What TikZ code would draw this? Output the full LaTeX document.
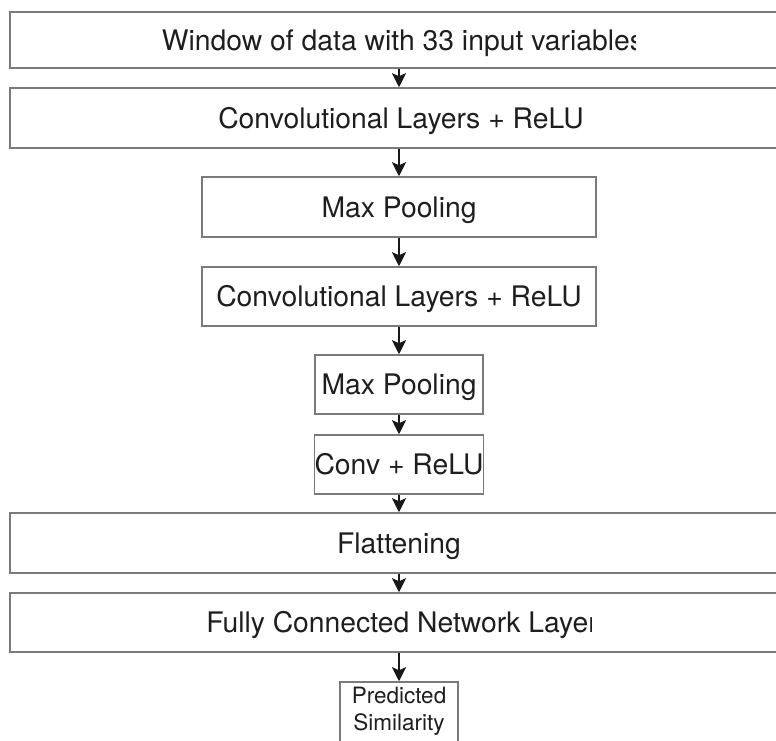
\documentclass[tikz,border=0pt]{standalone}
\usepackage{fontspec}
\setmainfont{TeX Gyre Heros}
\usetikzlibrary{arrows.meta}
\definecolor{boxline}{HTML}{7A7A7A}
\definecolor{txt}{HTML}{1E1E1E}
\tikzset{
  layer/.style={draw=boxline, line width=1.5pt, inner sep=0pt, text=txt,
    font=\fontsize{28.3}{33}\selectfont, text height=20pt, text depth=0pt},
  lbl/.style={inner sep=0pt, text=txt, font=\fontsize{28.3}{33}\selectfont,
    text height=20pt, text depth=0pt},
  arr/.style={draw=black!90, line width=2.5pt,
    -{Stealth[length=14pt,width=14pt,inset=3pt]}}
}
\begin{document}
\begin{tikzpicture}[x=1pt,y=-1pt]
\useasboundingbox (0,0) rectangle (776,740);
\clip (0,0) rectangle (776,740);
\coordinate (col) at (399,0);
% boxes
\node[layer, minimum width=790pt, minimum height=56pt] (B1) at (405,40) {};
\begin{scope}
  \clip (0,0) rectangle (635,740);
  \node[lbl] (T1) at (403,40) {Window of data with 33 input variables};
\end{scope}
\node[layer, minimum width=790pt, minimum height=60pt] (B2) at (405,118) {};
\node[lbl] (T2) at (401,118) {Convolutional Layers + ReLU};
\node[layer, minimum width=394pt, minimum height=60pt] (B3) at (399,207) {Max Pooling};
\node[layer, minimum width=394pt, minimum height=59pt] (B4) at (399,296.5) {Convolutional Layers + ReLU};
\node[layer, minimum width=168pt, minimum height=59pt] (B5) at (399,384.5) {Max Pooling};
\node[layer, minimum width=168pt, minimum height=59pt] (B6) at (399,464.5) {Conv + ReLU};
\node[layer, minimum width=790pt, minimum height=60pt] (B7) at (405,543) {};
\node[lbl] (T7) at (399,543) {Flattening};
\node[layer, minimum width=790pt, minimum height=59pt] (B8) at (405,622.5) {};
\begin{scope}
  \clip (0,0) rectangle (591,740);
  \node[lbl] (T8) at (402,622.5) {Fully Connected Network Layer};
\end{scope}
\node[layer, minimum width=118pt, minimum height=80pt] (B9) at (399,722) {};
\node[inner sep=0pt, text=txt, font=\fontsize{22.5}{27}\selectfont, align=center] (T9) at (399,711) {Predicted\\Similarity};
% arrows
\draw[arr] (B1.south -| col) -- (B2.north -| col);
\draw[arr] (B2.south -| col) -- (B3.north -| col);
\draw[arr] (B3.south -| col) -- (B4.north -| col);
\draw[arr] (B4.south -| col) -- (B5.north -| col);
\draw[arr] (B5.south -| col) -- (B6.north -| col);
\draw[arr] (B6.south -| col) -- (B7.north -| col);
\draw[arr] (B7.south -| col) -- (B8.north -| col);
\draw[arr] (B8.south -| col) -- (B9.north -| col);
\end{tikzpicture}
\end{document}
